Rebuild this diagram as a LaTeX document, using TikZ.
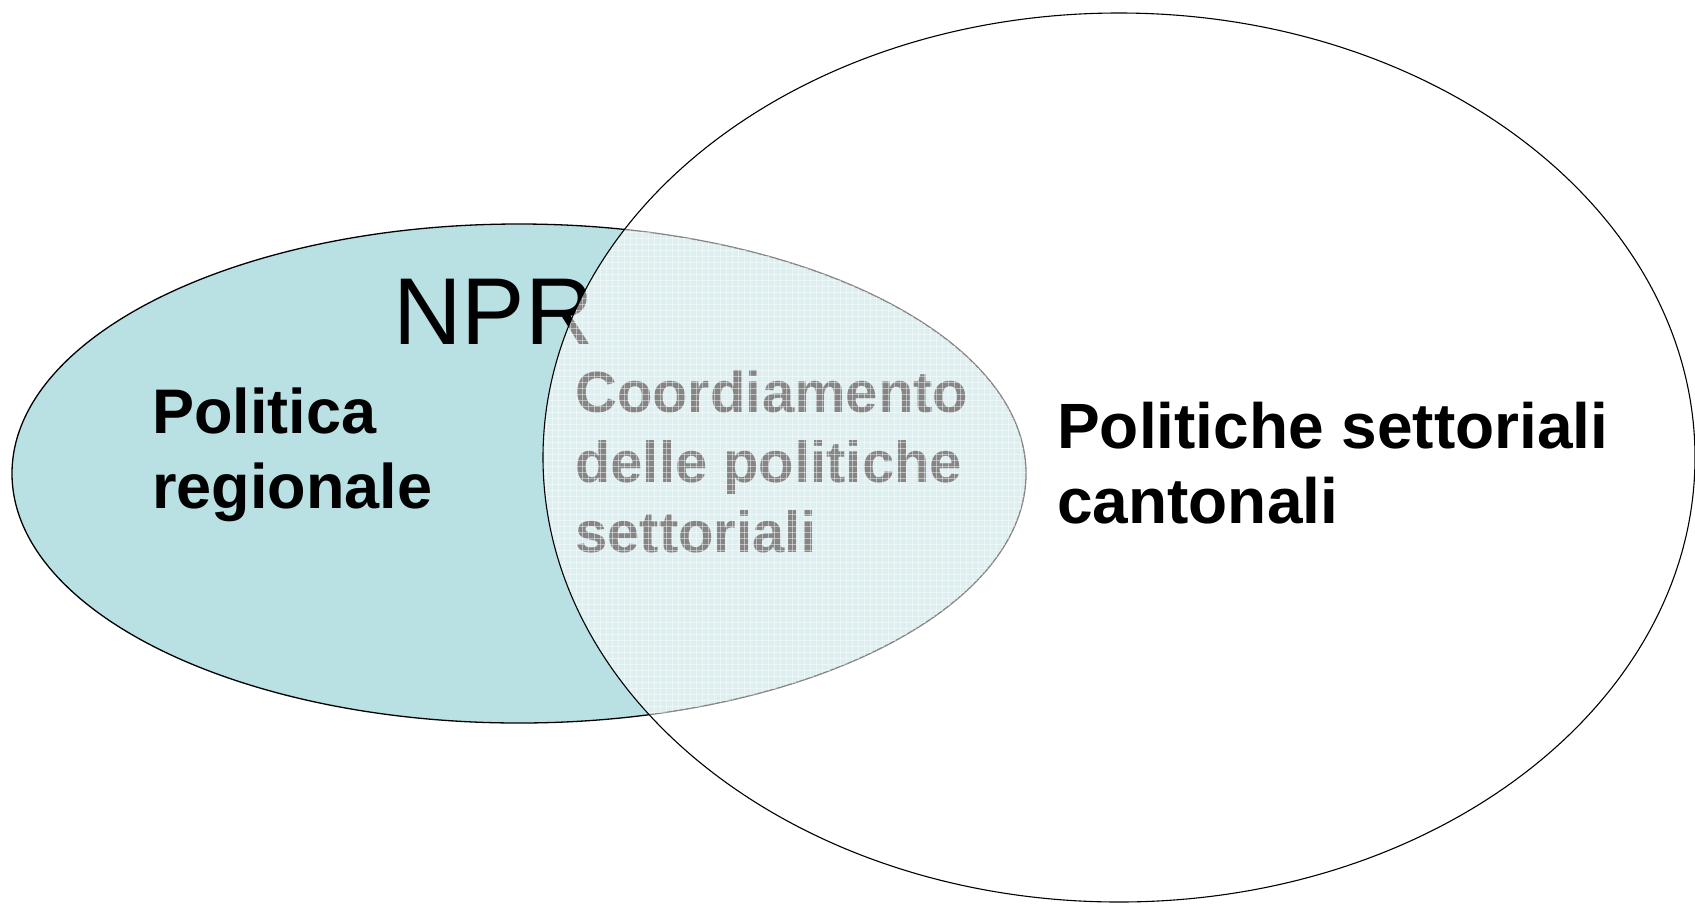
\documentclass[tikz,border=0pt]{standalone}
\usepackage{fontspec}
\setmainfont{Liberation Sans}
\definecolor{regiocol}{RGB}{185,224,227}

\begin{document}
\begin{tikzpicture}[x=1pt, y=-1pt,
    txt/.style={inner sep=0, anchor=north west, align=left}]
    \useasboundingbox (0,0) rectangle (1695,903);

    % NPR ellipse
    \fill [regiocol] (519,473.5) ellipse [x radius=507pt, y radius=249.5pt];
    \draw [line width=1.3pt] (519,473.5) ellipse [x radius=507pt, y radius=249.5pt];

    \node [inner sep=0, anchor=base west, font=\fontsize{95}{95}\selectfont]
        (npr) at (393,344) {NPR};
    \node [txt, font=\bfseries\fontsize{63}{75}\selectfont]
        (regio) at (152,388) {Politica\\regionale};
    \node [txt, font=\bfseries\fontsize{58}{70}\selectfont]
        (coord) at (575,370) {Coordiamento\\delle politiche\\settoriali};

    % cantonal ellipse, see-through with a fine grid
    \fill [white, fill opacity=0.52]
        (1119,457.5) ellipse [x radius=576pt, y radius=444.5pt];
    \begin{scope}
        \clip (519,473.5) ellipse [x radius=507pt, y radius=249.5pt];
        \clip (1119,457.5) ellipse [x radius=576pt, y radius=444.5pt];
        \foreach \i in {540, 546, ..., 1030} {
            \draw [white, line width=0.6pt, opacity=0.45] (\i, 220) --++ (0, 510);
        }
        \foreach \i in {220, 226, ..., 730} {
            \draw [white, line width=0.6pt, opacity=0.45] (540, \i) --++ (490, 0);
        }
    \end{scope}
    \draw [line width=1.1pt]
        (1119,457.5) ellipse [x radius=576pt, y radius=444.5pt];

    \node [txt, font=\bfseries\fontsize{64}{75}\selectfont]
        (sett) at (1057,402) {Politiche settoriali\\cantonali};
\end{tikzpicture}
\end{document}
